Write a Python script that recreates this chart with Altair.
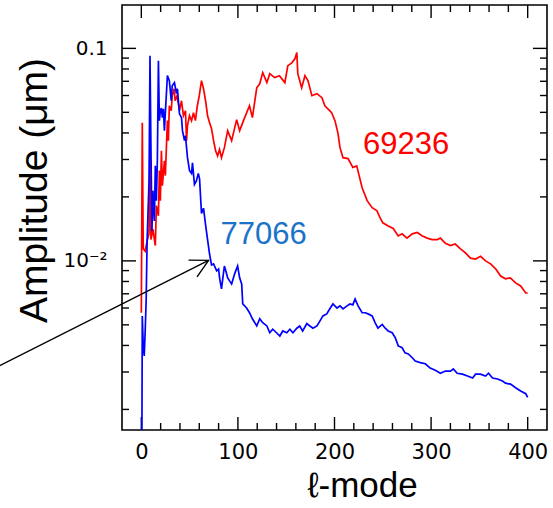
import math
import altair as alt
import pandas as pd

# ---- data (l-mode, amplitude in micrometres) ----
red_points = [
    (0, 0.0057), (1, 0.0447), (2, 0.0114), (4, 0.0111), (6, 0.0124), (8, 0.0135), (9, 0.0368),
    (10, 0.0126), (12, 0.0141), (14.5, 0.0118), (15.6, 0.0182), (17.7, 0.0163), (18.7, 0.0266),
    (19.7, 0.0192), (20.8, 0.0330), (21.8, 0.0226), (23.9, 0.0296), (24.9, 0.0252), (27, 0.0457),
    (28, 0.0368), (29, 0.0537), (31, 0.0509), (32, 0.0599), (34, 0.0646), (35, 0.0567), (37, 0.0599),
    (39.5, 0.0509), (41.6, 0.0567), (43.6, 0.0482), (45.7, 0.0509), (46.8, 0.0368), (47.8, 0.0433),
    (49.9, 0.0482), (52, 0.0457), (54, 0.0498), (56, 0.0457), (58, 0.0537), (60, 0.0599),
    (62.3, 0.0705), (64.4, 0.0646), (66.5, 0.0567), (68.6, 0.0482), (70.6, 0.0448), (72.7, 0.0419),
    (74.8, 0.0368), (76.9, 0.0330), (79, 0.0312), (81, 0.0334), (83, 0.0306), (86, 0.0341),
    (89.4, 0.0410), (93.5, 0.0368), (98.7, 0.0462), (101.8, 0.0410), (107, 0.0472), (112, 0.0537),
    (115, 0.0472), (119.5, 0.0652), (122.6, 0.0681), (125.7, 0.0769), (130, 0.0690), (133, 0.0760),
    (138, 0.0729), (143, 0.0744), (148.6, 0.0690), (151.7, 0.0829), (155.8, 0.0855), (159, 0.0893),
    (161, 0.0955), (162, 0.0760), (166, 0.0652), (169.4, 0.0744), (172.5, 0.0705), (176.6, 0.0599),
    (181.8, 0.0612), (187, 0.0586), (190, 0.0537), (195, 0.0509), (197, 0.0498), (200.5, 0.0457),
    (203.6, 0.0398), (205.7, 0.0341), (208.8, 0.0306), (214, 0.0303), (219, 0.0275), (223, 0.0280),
    (228.6, 0.0221), (233.8, 0.0192), (239, 0.0178), (244, 0.0172), (247, 0.0160), (250, 0.0151),
    (255.6, 0.0146), (260.8, 0.0142), (266, 0.0131), (270, 0.0134), (275, 0.0128), (280.5, 0.0134),
    (285.7, 0.0136), (291, 0.0131), (296, 0.0128), (301, 0.0126), (306.5, 0.0126), (309.6, 0.0128),
    (314.8, 0.0121), (320, 0.0118), (325, 0.0120), (330.4, 0.0114), (335.6, 0.0109), (340.8, 0.0103),
    (346, 0.0102), (351.2, 0.0105), (356.4, 0.0100), (361.6, 0.00968), (366.8, 0.00918),
    (372, 0.00849), (377, 0.00824), (382, 0.00832), (387.5, 0.00788), (392.7, 0.00762),
    (398, 0.00706), (400, 0.00706),
]

blue_points = [
    (0.5, 0.0010), (1, 0.0055), (2, 0.00398), (3, 0.00357), (4, 0.00468), (5, 0.00648), (6, 0.0124),
    (7, 0.0172), (8, 0.0238), (9, 0.0924), (10, 0.0330), (11, 0.0138), (12, 0.0214), (13.5, 0.0154),
    (14.5, 0.0280), (15.6, 0.0192), (16.6, 0.0296), (17.7, 0.0875), (18.7, 0.0457), (19.7, 0.0509),
    (20.8, 0.0524), (21.8, 0.0472), (22.9, 0.0519), (23.9, 0.0410), (25, 0.0509), (27, 0.0744),
    (29, 0.0705), (31, 0.0567), (32, 0.0667), (34.3, 0.0690), (36.4, 0.0612), (37.4, 0.0646),
    (39.5, 0.0492), (41.6, 0.0472), (42.6, 0.0410), (44.7, 0.0368), (45.7, 0.0388), (47.8, 0.0306),
    (49.9, 0.0266), (52, 0.0258), (53, 0.0289), (55, 0.0229), (57, 0.0238), (59, 0.0258),
    (60.3, 0.0243), (62.3, 0.0167), (64.4, 0.0177), (66.5, 0.0148), (68.6, 0.0126), (70.6, 0.0108),
    (72.7, 0.00957), (74.8, 0.00968), (78, 0.00897), (80, 0.00915), (81, 0.00832), (83, 0.00738),
    (86, 0.00946), (88.3, 0.00869), (89.4, 0.00832), (91.4, 0.00805), (93.5, 0.00779), (96.6, 0.00869),
    (99.7, 0.00946), (101.8, 0.00832), (103.9, 0.00779), (105, 0.00627), (109, 0.00600), (112, 0.00570),
    (115, 0.00534), (119.5, 0.00494), (122.6, 0.00534), (125.7, 0.00512), (130, 0.00494),
    (133, 0.00459), (136, 0.00477), (140, 0.00459), (143.4, 0.00443), (146.5, 0.00468),
    (150.6, 0.00459), (153.8, 0.00477), (157, 0.00459), (161, 0.00482), (164, 0.00494),
    (167, 0.00468), (171.4, 0.00507), (174.5, 0.00494), (177.7, 0.00482), (181.8, 0.00494),
    (185, 0.00522), (188, 0.00551), (192, 0.00563), (195, 0.00594), (198.4, 0.00627), (202.6, 0.00600),
    (205.7, 0.00614), (208.8, 0.00594), (213, 0.00614), (216, 0.00627), (219, 0.00621),
    (221.3, 0.00662), (224.4, 0.00614), (228.6, 0.00570), (231.7, 0.00570), (234.8, 0.00563),
    (239, 0.00551), (242, 0.00512), (245, 0.00482), (249.4, 0.00502), (252.5, 0.00482),
    (255.6, 0.00468), (259.7, 0.00459), (263, 0.00434), (266, 0.00398), (270, 0.00390),
    (273, 0.00369), (276.4, 0.00365), (280.5, 0.00350), (283.6, 0.00338), (288.8, 0.00332),
    (294, 0.00328), (299, 0.00313), (304.4, 0.00306), (309.6, 0.00296), (314.8, 0.00303),
    (320, 0.00303), (323, 0.00310), (327, 0.00296), (332.5, 0.00293), (337.7, 0.00287),
    (343, 0.00281), (346, 0.00293), (351, 0.00293), (356.4, 0.00287), (359.5, 0.00296),
    (363.6, 0.00281), (368.8, 0.00278), (374, 0.00272), (377, 0.00266), (382.3, 0.00263),
    (387.5, 0.00253), (392.7, 0.00244), (398, 0.00237), (400, 0.00228),
]

label_text = ["69236", "77066"]
label_ell = [229.6, 82.0]
label_amp = [0.0319, 0.0120]
label_color = ["#ff0000", "#1a73c9"]

arrow_ell = [-147.5, 69.6]
arrow_amp = [0.0032, 0.01005]

x_major = [0, 100, 200, 300, 400]
x_minor = [20, 40, 60, 80, 120, 140, 160, 180, 220, 240, 260, 280, 320, 340, 360, 380]
y_major = [0.01, 0.1]
y_minor = [0.002, 0.003, 0.004, 0.005, 0.006, 0.007, 0.008, 0.009,
           0.02, 0.03, 0.04, 0.05, 0.06, 0.07, 0.08, 0.09]

# ---- layout ----
W, H = 425, 425
MAJOR, MINOR = 13, 7
X_LO, X_HI = -20, 420
Y_LO, Y_HI = 0.0016, 0.16
xs = alt.Scale(domain=[X_LO, X_HI], nice=False, zero=False)
ys = alt.Scale(type="log", domain=[Y_LO, Y_HI], nice=False)

x_axis = alt.Axis(values=x_major, ticks=False, domain=False, grid=False, labelFlush=False,
                  labelFont="DejaVu Sans", labelFontSize=21, labelColor="black", labelPadding=11,
                  title="ℓ-mode", titleFont="Liberation Sans", titleFontSize=35,
                  titleFontWeight="normal", titleColor="black", titleX=240, titleY=66,
                  titleAlign="center", titleBaseline="alphabetic")
y_axis = alt.Axis(values=y_major, ticks=False, domain=False, grid=False, labelFlush=False,
                  labelExpr="datum.value > 0.05 ? '0.1' : '10⁻²'",
                  labelFont="DejaVu Sans", labelFontSize=20, labelColor="black", labelPadding=15,
                  title="Amplitude (μm)", titleFont="Liberation Sans", titleFontSize=39,
                  titleFontWeight="normal", titleColor="black", titleX=-76, titleY=185,
                  titleAlign="center", titleBaseline="alphabetic")


def X(field="l"):
    return alt.X(f"{field}:Q", scale=xs, axis=x_axis)


def Y(field="a"):
    return alt.Y(f"{field}:Q", scale=ys, axis=y_axis)


# inward tick marks on all four sides: two-point line segments through the two scales
decades = math.log10(Y_HI / Y_LO)
seg = []
for vals, n in ((x_major, MAJOR), (x_minor, MINOR)):
    k = 10 ** (decades * n / H)
    for v in vals:
        seg.append(((v, Y_LO), (v, Y_LO * k)))
        seg.append(((v, Y_HI), (v, Y_HI / k)))
for vals, n in ((y_major, MAJOR + 1), (y_minor, MINOR)):
    d = (X_HI - X_LO) * n / W
    for v in vals:
        seg.append(((X_LO, v), (X_LO + d, v)))
        seg.append(((X_HI, v), (X_HI - d, v)))
rows = []
for i, (p, q) in enumerate(seg):
    rows.append({"id": f"t{i}", "o": 0, "l": p[0], "a": p[1]})
    rows.append({"id": f"t{i}", "o": 1, "l": q[0], "a": q[1]})
tick_df = pd.DataFrame(rows)

red_df = pd.DataFrame(red_points, columns=["l", "a"])
blue_df = pd.DataFrame(blue_points, columns=["l", "a"])
lab_df = pd.DataFrame({"l": label_ell, "a": label_amp, "t": label_text, "c": label_color})
arr_df = pd.DataFrame({"l": [arrow_ell[0]], "a": [arrow_amp[0]], "l2": [arrow_ell[1]], "a2": [arrow_amp[1]]})
tip_df = pd.DataFrame({"l": [arrow_ell[1]], "a": [arrow_amp[1]]})

tick_lines = alt.Chart(tick_df).mark_line(color="black", strokeWidth=1.4).encode(
    x=X(), y=Y(), detail="id:N", order="o:Q")
red = alt.Chart(red_df).mark_line(color="#ff0000", strokeWidth=1.7, clip=True).encode(x=X(), y=Y())
blue = alt.Chart(blue_df).mark_line(color="#0000ff", strokeWidth=1.7, clip=True).encode(x=X(), y=Y())
labels = alt.Chart(lab_df).mark_text(align="left", baseline="alphabetic", font="Liberation Sans",
                                     fontSize=31).encode(
    x=X(), y=Y(), text="t:N", color=alt.Color("c:N", scale=None))
arrow = alt.Chart(arr_df).mark_rule(color="black", strokeWidth=1.4).encode(
    x=X(), y=Y(), x2="l2:Q", y2="a2:Q")
tip = alt.Chart(tip_df).mark_point(shape="M -1 -0.53 L 0 0 L -1 0.53", filled=False, size=1250,
                                   angle=333, color="black", strokeWidth=1.4, opacity=1).encode(
    x=X(), y=Y())

chart = alt.layer(tick_lines, red, blue, labels, arrow, tip).properties(
    width=W, height=H,
    autosize=alt.AutoSizeParams(type="none"),
    padding={"left": 122, "top": 5, "right": 6, "bottom": 78},
    background="white",
).configure_view(stroke="black", strokeWidth=1.6)

chart.save("out.html", embed_options={"renderer": "svg", "actions": False})
